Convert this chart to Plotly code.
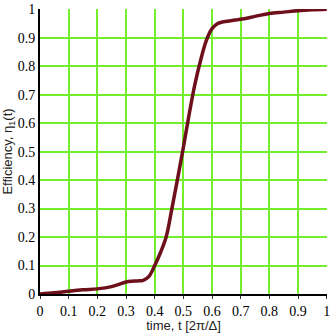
import plotly.graph_objects as go

t_vals = [0, 0.05, 0.1, 0.15, 0.2, 0.25, 0.30, 0.32, 0.34, 0.36, 0.38, 0.40, 0.42, 0.44, 0.46, 0.48, 0.50,
          0.52, 0.54, 0.56, 0.58, 0.60, 0.62, 0.64, 0.66, 0.68, 0.70, 0.75, 0.80, 0.85, 0.90, 0.95, 1.0]
eff_vals = [0, 0.004, 0.01, 0.015, 0.018, 0.026, 0.042, 0.045, 0.046, 0.048, 0.062, 0.10, 0.145, 0.2, 0.3, 0.405, 0.515,
            0.63, 0.735, 0.82, 0.89, 0.932, 0.95, 0.956, 0.959, 0.962, 0.965, 0.975, 0.985, 0.99, 0.995, 0.998, 1.0]

tick_vals = [0, 0.1, 0.2, 0.3, 0.4, 0.5, 0.6, 0.7, 0.8, 0.9, 1]
tick_text = ["0", "0.1", "0.2", "0.3", "0.4", "0.5", "0.6", "0.7", "0.8", "0.9", "1"]

fig = go.Figure()
fig.add_trace(go.Scatter(x=t_vals, y=eff_vals, mode="lines",
                         line=dict(color="#6e0f1c", width=3.5, shape="spline", smoothing=1.0),
                         showlegend=False, hoverinfo="skip"))

grid = "#72ee2e"
tickfont = dict(family="Liberation Serif, Times New Roman, serif", size=14, color="black")
titlefont = dict(family="Liberation Sans, Arial, sans-serif", size=13, color="#222")

fig.update_layout(
    width=332, height=333,
    margin=dict(l=40, r=2, t=4, b=39),
    paper_bgcolor="white", plot_bgcolor="white",
    xaxis=dict(range=[0, 1.001], tickvals=tick_vals, ticktext=tick_text, tickfont=tickfont,
               showgrid=True, gridcolor=grid, gridwidth=2, zeroline=False,
               showline=True, linecolor="black", linewidth=2, ticklabeloverflow="allow",
               ticks="outside", ticklen=3, tickcolor="#333", tickwidth=1,
               title=dict(text="time, t [2π/Δ]", font=titlefont, standoff=0)),
    yaxis=dict(range=[0, 1.001], tickvals=tick_vals, ticktext=tick_text, tickfont=tickfont,
               showgrid=True, gridcolor=grid, gridwidth=2, zeroline=False,
               showline=True, linecolor="black", linewidth=2, ticklabeloverflow="allow",
               ticks="", ticklen=0,
               title=dict(text="Efficiency, η<sub>1</sub>(t)", font=titlefont, standoff=7)),
)

fig.write_html("out.html", config={"displayModeBar": False},
               post_script="document.body.style.margin='0';")
